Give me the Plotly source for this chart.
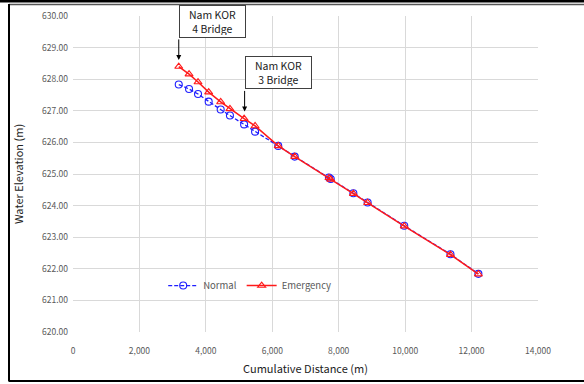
import plotly.graph_objects as go

# Data
normal_x = [3184, 3494, 3764, 4085, 4446, 4725, 5152, 5482, 6179, 6675, 7705, 7760, 8441, 8871, 9973, 11364, 12205]
normal_y = [627.83, 627.69, 627.53, 627.29, 627.04, 626.85, 626.57, 626.34, 625.89, 625.55, 624.89, 624.84, 624.39, 624.10, 623.36, 622.46, 621.84]
emerg_x = [3184, 3494, 3764, 4085, 4446, 4725, 5152, 5482, 6179, 6675, 7705, 7760, 8441, 8871, 9973, 11364, 12205]
emerg_y = [628.40, 628.16, 627.91, 627.59, 627.28, 627.06, 626.75, 626.52, 625.89, 625.55, 624.88, 624.83, 624.38, 624.09, 623.35, 622.45, 621.83]
x_ticks = [0, 2000, 4000, 6000, 8000, 10000, 12000, 14000]
y_ticks = [620, 621, 622, 623, 624, 625, 626, 627, 628, 629, 630]
bridges = ["Nam KOR<br>4 Bridge", "Nam KOR<br>3 Bridge"]
bridge_x = [3184, 5167]
bridge_head_y = [628.61, 626.98]
box_x = [4190, 6179]
box_y = [629.83, 628.21]

FONT = "Noto Sans CJK KR"

fig = go.Figure()
fig.add_trace(go.Scatter(
    x=normal_x, y=normal_y, name="Normal", mode="lines+markers",
    line=dict(color="#1f1fff", width=1.3, dash="4px,2px"),
    marker=dict(symbol="circle-open", size=7, color="#1f1fff", line=dict(width=1.1)),
))
fig.add_trace(go.Scatter(
    x=emerg_x, y=emerg_y, name="Emergency", mode="lines+markers",
    line=dict(color="#ff1a1a", width=1.5),
    marker=dict(symbol="triangle-up-open", size=7, color="#ff1a1a", line=dict(width=1.1)),
))

for txt, hx, hy, bx, by in zip(bridges, bridge_x, bridge_head_y, box_x, box_y):
    fig.add_annotation(x=hx, y=hy, xref="x", yref="y", text="", showarrow=True,
                       ax=0, ay=-22, arrowhead=2, arrowsize=1, arrowwidth=1,
                       arrowcolor="#000000")
    fig.add_annotation(x=bx, y=by, xref="x", yref="y", text=txt, showarrow=False,
                       bgcolor="white", bordercolor="#404040", borderwidth=1,
                       borderpad=2, width=61, height=27,
                       font=dict(family=FONT, size=10.5, color="#222222"))

grid = "#d9d9d9"
fig.update_xaxes(range=[0, 14000], tickvals=x_ticks, tickformat=",d",
                 showgrid=True, gridcolor=grid, gridwidth=1, zeroline=False,
                 showline=False, ticks="", automargin=False, ticklabelstandoff=12,
                 tickfont=dict(family=FONT, size=8.5, color="#595959"),
                 title=dict(text="Cumulative Distance (m)", standoff=10,
                            font=dict(family=FONT, size=11, color="#222222")))
fig.update_yaxes(range=[620, 630], tickvals=y_ticks, tickformat=".2f",
                 showgrid=True, gridcolor=grid, gridwidth=1, zeroline=False,
                 showline=False, ticks="", automargin=False, ticklabelstandoff=4,
                 tickfont=dict(family=FONT, size=8.5, color="#595959"),
                 title=dict(text="Water Elevation (m)", standoff=16,
                            font=dict(family=FONT, size=11, color="#222222")))

fig.update_layout(
    width=584, height=384,
    margin=dict(l=73, r=46, t=16, b=51.5, autoexpand=False),
    paper_bgcolor="white", plot_bgcolor="white",
    showlegend=True,
    legend=dict(orientation="h", x=0.38, y=0.147, xanchor="center", yanchor="middle",
                bgcolor="rgba(0,0,0,0)", font=dict(family=FONT, size=9.5, color="#595959"),
                itemwidth=30),
    font=dict(family=FONT),
)

# Border lines in pixel-based paper coordinates
def px_x(p):
    return (p - 73) / 465
def px_y(p):
    return (332.5 - p) / 316.5

fig.add_shape(type="rect", xref="paper", yref="paper", x0=px_x(0), x1=px_x(584),
              y0=px_y(2.5), y1=px_y(-1), line=dict(width=0), fillcolor="black", layer="above")
fig.add_shape(type="line", xref="paper", yref="paper", x0=px_x(9), x1=px_x(584),
              y0=px_y(4.5), y1=px_y(4.5), line=dict(width=1.5, color="#555555"))
fig.add_shape(type="line", xref="paper", yref="paper", x0=px_x(9), x1=px_x(9),
              y0=px_y(4), y1=px_y(382), line=dict(width=2, color="black"))
fig.add_shape(type="line", xref="paper", yref="paper", x0=px_x(9), x1=px_x(584),
              y0=px_y(381.5), y1=px_y(381.5), line=dict(width=2, color="black"))

fig.write_html("out.html", config={"displayModeBar": False},
               post_script="document.body.style.margin='0px';document.body.style.overflow='hidden';")
